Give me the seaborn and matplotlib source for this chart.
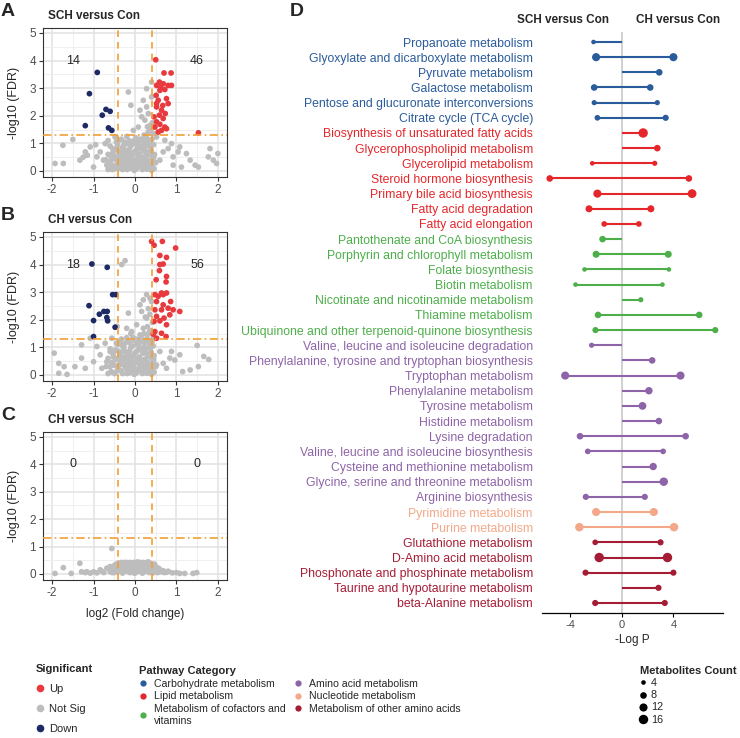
import numpy as np
import pandas as pd
import matplotlib.pyplot as plt
import seaborn as sns
from matplotlib.lines import Line2D
from matplotlib.ticker import MultipleLocator

sns.set_style('white')
plt.rcParams['font.family'] = ['Liberation Sans', 'DejaVu Sans']
plt.rcParams['axes.unicode_minus'] = False

# ---------------- volcano data: (log2 fold change, -log10 FDR) ----------------
a_up = [(0.50, 4.03), (0.70, 3.55), (0.87, 3.55), (0.59, 3.22), (0.68, 3.16), (0.80, 3.10),
        (0.88, 3.10), (0.52, 3.10), (0.60, 2.92), (0.72, 2.95), (0.51, 2.74), (0.56, 2.56),
        (0.76, 2.62), (0.80, 2.44), (0.52, 2.32), (0.64, 2.20), (0.59, 2.02), (0.68, 1.90),
        (0.52, 1.78), (0.60, 1.69), (0.48, 1.59), (0.72, 1.59), (0.64, 1.47), (0.56, 1.41),
        (0.52, 2.44), (0.67, 2.37), (0.73, 2.08), (0.46, 1.96), (1.53, 1.38), (0.76, 1.53),
        (0.62, 3.02)]
a_down = [(-0.91, 3.57), (-1.10, 2.80), (-0.70, 2.23), (-0.60, 2.16), (-0.79, 2.02),
          (-1.20, 1.64), (-0.64, 1.56), (-0.56, 1.47)]
a_ns = [(-1.93, 0.27), (-1.73, 0.27), (-1.74, 0.93), (-1.50, 1.14), (-1.33, 0.39), (-1.20, 0.69),
        (-1.15, 0.57), (-1.08, 0.87), (-1.00, 0.14), (-0.92, 0.51), (-0.84, 0.69), (-0.76, 0.39),
        (-0.72, 0.99), (-0.68, 0.21), (-0.60, 0.57), (-0.54, 0.81), (-0.48, 1.23), (-0.95, 0.95),
        (-1.25, 0.50), (-0.65, 1.10),
        (1.81, 0.81), (1.89, 0.39), (2.00, 0.63), (1.97, 0.27), (1.77, 0.51), (1.53, 0.14),
        (1.45, 0.21), (1.33, 0.39), (1.24, 0.63), (1.08, 0.87), (1.04, 0.69), (0.92, 0.51),
        (0.88, 0.99), (0.80, 0.81), (0.72, 1.11), (0.68, 0.69), (0.60, 0.39), (0.52, 1.23),
        (0.92, 0.21), (1.12, 0.14),
        (-0.16, 2.86), (-0.10, 2.38), (0.40, 3.22), (0.28, 2.98), (0.20, 2.56), (0.12, 2.20),
        (0.32, 2.08), (0.24, 1.84), (0.08, 1.59), (0.36, 1.65), (-0.04, 1.47), (0.28, 2.32),
        (0.40, 2.68), (0.16, 1.96), (0.32, 1.41),
        (-0.55, 0.05), (-0.50, 0.20), (-0.45, 0.40), (-0.40, 0.10), (-0.38, 0.60), (-0.35, 0.30),
        (-0.30, 0.85), (-0.30, 0.05), (-0.25, 0.50), (-0.22, 0.20), (-0.20, 1.00), (-0.18, 0.70),
        (-0.15, 0.35), (-0.12, 0.10), (-0.10, 0.90), (-0.08, 0.55), (-0.05, 0.25), (-0.02, 1.10),
        (0.00, 0.70), (0.00, 0.05), (0.03, 0.40), (0.05, 0.95), (0.07, 0.15), (0.10, 0.60),
        (0.12, 1.15), (0.14, 0.30), (0.16, 0.80), (0.18, 0.05), (0.20, 0.50), (0.22, 1.00),
        (0.25, 0.20), (0.27, 0.70), (0.30, 0.40), (0.32, 1.10), (0.35, 0.10), (0.37, 0.85),
        (0.40, 0.55), (0.42, 0.25), (0.45, 0.95), (-0.48, 0.75), (-0.42, 0.95), (-0.33, 1.15),
        (-0.28, 0.45), (-0.60, 0.30), (-0.52, 0.55), (0.08, 0.80), (-0.07, 0.45), (0.15, 0.15),
        (0.28, 0.30), (-0.18, 0.15), (-0.25, 0.75), (0.35, 0.65), (0.10, 0.35), (-0.12, 0.62),
        (0.02, 0.22), (0.23, 0.85), (-0.35, 0.50), (0.40, 0.02), (-0.02, 0.02), (0.47, 0.60),
        (-0.58, 0.12), (-0.49, 0.08), (-0.41, 0.22), (-0.33, 0.15), (-0.27, 0.32), (-0.19, 0.05),
        (-0.13, 0.24), (-0.04, 0.12), (0.04, 0.08), (0.12, 0.22), (0.21, 0.12), (0.29, 0.06),
        (0.38, 0.16), (0.46, 0.08), (-0.56, 0.42), (-0.46, 0.52), (-0.39, 0.34), (-0.31, 0.62),
        (-0.22, 0.38), (-0.15, 0.52), (-0.05, 0.36), (0.06, 0.58), (0.13, 0.46), (0.20, 0.36),
        (0.26, 0.55), (0.34, 0.28), (0.43, 0.42), (0.50, 0.30), (-0.53, 0.68), (-0.44, 0.82),
        (-0.36, 0.72), (-0.27, 0.92), (-0.21, 0.62), (-0.13, 0.82), (-0.03, 0.68), (0.04, 0.78),
        (0.11, 0.92), (0.19, 0.72), (0.25, 0.90), (0.31, 0.62), (0.39, 0.75), (0.45, 0.50),
        (-0.45, 1.05), (-0.38, 1.12), (-0.26, 1.05), (-0.14, 1.10), (-0.06, 0.98), (0.02, 1.20),
        (0.09, 1.05), (0.18, 1.15), (0.28, 1.20), (0.35, 1.00), (0.41, 1.15), (0.44, 1.35),
        (0.38, 1.50), (0.30, 1.60), (0.42, 1.75), (0.22, 1.30), (-0.20, 1.25), (-0.60, 0.90),
        (-0.65, 0.60), (-0.70, 0.40), (-0.65, 0.05)]

b_up = [(0.40, 4.84), (0.66, 4.84), (0.46, 4.70), (0.98, 4.60), (0.60, 4.33), (0.76, 4.26),
        (0.68, 4.02), (0.60, 4.00), (0.51, 3.45), (0.76, 3.57), (0.75, 3.37), (0.64, 2.97),
        (0.48, 2.91), (0.56, 2.85), (0.68, 2.91), (0.76, 2.97), (0.86, 2.66), (0.52, 2.66),
        (0.68, 2.54), (0.48, 2.36), (0.64, 2.36), (0.80, 2.42), (0.92, 2.36), (1.08, 2.30),
        (0.52, 2.12), (0.70, 2.06), (0.60, 1.96), (0.46, 1.94), (0.76, 1.82), (0.48, 1.57),
        (0.64, 1.51), (0.52, 1.33), (0.75, 1.39), (0.44, 1.48), (0.84, 2.18), (0.59, 3.78)]
b_down = [(-1.04, 4.02), (-0.67, 3.90), (-0.54, 2.91), (-0.46, 2.91), (-1.11, 2.51),
          (-0.86, 2.20), (-0.75, 2.30), (-0.67, 2.30), (-1.00, 1.97), (-0.68, 2.08),
          (-0.66, 1.96), (-0.48, 1.73), (-1.00, 1.39)]
b_ns = [(-0.32, 4.00), (-0.24, 4.14), (-0.43, 1.76), (-0.16, 2.24), (0.12, 2.54), (0.28, 2.91),
        (0.36, 2.78), (0.20, 2.72), (0.40, 2.66), (0.16, 2.30), (0.28, 2.06), (0.04, 1.82),
        (0.20, 1.69), (-0.08, 1.57), (0.35, 1.57), (0.12, 1.45), (-0.20, 1.69), (0.32, 2.40),
        (-1.95, 0.79), (-1.84, 0.42), (-1.84, 0.06), (-1.64, 0.02), (-1.71, 0.30), (-1.45, 0.30),
        (-1.29, 0.61), (-1.29, 1.09), (-1.20, 0.24), (-1.08, 1.33), (-1.00, 0.48), (-0.92, 1.03),
        (-0.84, 0.73), (-0.80, 0.24), (-0.72, 1.15), (-0.68, 0.48), (-0.60, 0.85), (-0.56, 1.33),
        (1.50, 1.07), (1.66, 0.67), (1.78, 0.56), (1.53, 0.30), (1.33, 0.18), (1.15, 0.12),
        (0.96, 0.54), (0.84, 0.61), (0.76, 0.24), (0.60, 0.85), (0.68, 0.42), (1.08, 0.73),
        (0.52, 0.36), (0.88, 0.85),
        (-0.55, 0.10), (-0.50, 0.35), (-0.46, 0.60), (-0.42, 0.15), (-0.38, 0.85), (-0.35, 0.40),
        (-0.30, 1.05), (-0.30, 0.05), (-0.25, 0.60), (-0.22, 0.25), (-0.20, 1.20), (-0.17, 0.80),
        (-0.14, 0.40), (-0.12, 0.08), (-0.10, 1.00), (-0.07, 0.60), (-0.05, 0.25), (-0.02, 1.25),
        (0.00, 0.80), (0.00, 0.05), (0.03, 0.45), (0.05, 1.10), (0.07, 0.15), (0.10, 0.65),
        (0.12, 1.30), (0.14, 0.30), (0.16, 0.90), (0.18, 0.05), (0.20, 0.55), (0.22, 1.15),
        (0.25, 0.20), (0.27, 0.80), (0.30, 0.45), (0.32, 1.25), (0.35, 0.10), (0.37, 0.95),
        (0.40, 0.60), (0.42, 0.25), (0.44, 1.05), (-0.48, 0.90), (-0.42, 1.10), (-0.33, 1.30),
        (-0.28, 0.50), (-0.60, 0.30), (-0.52, 0.65), (0.08, 0.90), (-0.07, 0.45), (0.15, 0.15),
        (0.28, 0.35), (-0.18, 0.15), (-0.25, 0.85), (0.35, 0.75), (0.10, 0.40), (-0.12, 0.70),
        (0.02, 0.22), (0.23, 1.00), (-0.35, 0.55), (0.40, 0.02), (-0.02, 0.02), (0.46, 0.70),
        (0.30, 1.45), (0.15, 1.40), (-0.05, 1.35), (0.42, 1.30),
        (-0.58, 0.12), (-0.49, 0.05), (-0.41, 0.25), (-0.33, 0.15), (-0.27, 0.35), (-0.19, 0.05),
        (-0.13, 0.24), (-0.04, 0.12), (0.04, 0.08), (0.12, 0.25), (0.21, 0.12), (0.29, 0.06),
        (0.38, 0.18), (0.46, 0.10), (-0.56, 0.45), (-0.46, 0.55), (-0.39, 0.34), (-0.31, 0.65),
        (-0.22, 0.40), (-0.15, 0.55), (-0.05, 0.36), (0.06, 0.60), (0.13, 0.48), (0.20, 0.36),
        (0.26, 0.58), (0.34, 0.30), (0.43, 0.45), (0.50, 0.30), (-0.53, 0.75), (-0.44, 0.88),
        (-0.36, 0.75), (-0.27, 0.98), (-0.21, 0.68), (-0.13, 0.88), (-0.03, 0.72), (0.04, 0.85),
        (0.11, 1.00), (0.19, 0.78), (0.25, 0.95), (0.31, 0.68), (0.39, 0.82), (0.45, 0.55),
        (-0.45, 1.15), (-0.36, 1.20), (-0.26, 1.12), (-0.14, 1.18), (-0.06, 1.05), (0.02, 1.30),
        (0.09, 1.15), (0.18, 1.25), (0.28, 1.30), (0.35, 1.10), (0.41, 1.20), (0.44, 1.45),
        (0.38, 1.60), (0.30, 1.75), (0.42, 1.90), (0.22, 1.50), (-0.20, 1.35), (-0.10, 1.50),
        (-0.60, 0.95), (-0.65, 0.60), (-0.70, 0.30), (-0.65, 0.05), (0.36, 2.20), (0.25, 2.10)]

c_up = []
c_down = []
c_ns = [(-0.56, 0.93), (-1.93, 0.02), (-1.73, 0.23), (-1.54, 0.02), (-1.33, 0.39), (-1.29, 0.08),
        (-1.16, 0.08), (-1.00, 0.08), (-0.84, 0.15), (-0.68, 0.21), (-0.60, 0.27), (-0.75, 0.05),
        (-0.92, 0.04), (-1.08, 0.03), (0.60, 0.08), (0.76, 0.06), (1.08, 0.02), (1.20, 0.02),
        (1.40, 0.02), (1.49, 0.05), (0.68, 0.12), (0.90, 0.04),
        (-0.55, 0.05), (-0.50, 0.15), (-0.46, 0.25), (-0.42, 0.08), (-0.38, 0.30), (-0.35, 0.18),
        (-0.30, 0.38), (-0.30, 0.03), (-0.26, 0.25), (-0.22, 0.12), (-0.20, 0.42), (-0.17, 0.30),
        (-0.14, 0.20), (-0.12, 0.05), (-0.10, 0.40), (-0.07, 0.28), (-0.05, 0.12), (-0.02, 0.42),
        (0.00, 0.32), (0.00, 0.03), (0.03, 0.20), (0.05, 0.40), (0.07, 0.10), (0.10, 0.30),
        (0.12, 0.42), (0.14, 0.15), (0.16, 0.35), (0.18, 0.03), (0.20, 0.25), (0.22, 0.40),
        (0.25, 0.10), (0.27, 0.30), (0.30, 0.20), (0.32, 0.38), (0.35, 0.05), (0.37, 0.30),
        (0.40, 0.22), (0.42, 0.10), (0.45, 0.28), (0.50, 0.15), (0.55, 0.05), (-0.48, 0.33),
        (-0.40, 0.40), (-0.25, 0.42), (0.28, 0.42), (0.48, 0.22), (-0.58, 0.15), (0.52, 0.25),
        (-0.60, 0.08), (-0.52, 0.28), (-0.44, 0.12), (-0.37, 0.22), (-0.28, 0.15), (-0.23, 0.32),
        (-0.16, 0.08), (-0.09, 0.32), (-0.03, 0.20), (0.02, 0.36), (0.08, 0.24), (0.15, 0.08),
        (0.19, 0.42), (0.24, 0.20), (0.33, 0.30), (0.39, 0.38), (0.44, 0.04), (0.47, 0.36),
        (0.53, 0.12), (0.58, 0.20), (-0.45, 0.36), (-0.33, 0.42), (-0.12, 0.42), (0.06, 0.44),
        (0.32, 0.44), (-0.18, 0.20), (0.12, 0.12), (0.28, 0.10), (-0.04, 0.05), (-0.50, 0.05),
        (0.70, 0.05), (0.80, 0.10), (-0.80, 0.10), (1.00, 0.05), (-1.20, 0.05)]

# ---------------- pathway enrichment data ----------------
pathways = ['Propanoate metabolism', 'Glyoxylate and dicarboxylate metabolism', 'Pyruvate metabolism',
            'Galactose metabolism', 'Pentose and glucuronate interconversions', 'Citrate cycle (TCA cycle)',
            'Biosynthesis of unsaturated fatty acids', 'Glycerophospholipid metabolism',
            'Glycerolipid metabolism', 'Steroid hormone biosynthesis', 'Primary bile acid biosynthesis',
            'Fatty acid degradation', 'Fatty acid elongation', 'Pantothenate and CoA biosynthesis',
            'Porphyrin and chlorophyll metabolism', 'Folate biosynthesis', 'Biotin metabolism',
            'Nicotinate and nicotinamide metabolism', 'Thiamine metabolism',
            'Ubiquinone and other terpenoid-quinone biosynthesis', 'Valine, leucine and isoleucine degradation',
            'Phenylalanine, tyrosine and tryptophan biosynthesis', 'Tryptophan metabolism',
            'Phenylalanine metabolism', 'Tyrosine metabolism', 'Histidine metabolism', 'Lysine degradation',
            'Valine, leucine and isoleucine biosynthesis', 'Cysteine and methionine metabolism',
            'Glycine, serine and threonine metabolism', 'Arginine biosynthesis', 'Pyrimidine metabolism',
            'Purine metabolism', 'Glutathione metabolism', 'D-Amino acid metabolism',
            'Phosphonate and phosphinate metabolism', 'Taurine and hypotaurine metabolism',
            'beta-Alanine metabolism']
category = (['Carbohydrate metabolism'] * 6 + ['Lipid metabolism'] * 7 +
            ['Metabolism of cofactors and\nvitamins'] * 7 + ['Amino acid metabolism'] * 11 +
            ['Nucleotide metabolism'] * 2 + ['Metabolism of other amino acids'] * 5)
nan = np.nan
sch_logp = [-2.2, -2.0, nan, -2.15, -2.15, -1.9, nan, nan, -2.3, -5.6, -1.9, -2.55, -1.37,
            -1.5, -2.0, -2.9, -3.6, nan, -1.85, -2.05, -2.35, nan, -4.4, nan, nan, nan, -3.25,
            -2.65, nan, nan, -2.8, -2.0, -3.3, -2.07, -1.76, -2.82, nan, -2.07]
sch_count = [4, 12, nan, 8, 5, 6, nan, nan, 4, 8, 12, 9, 6, 8, 9, 4, 4, nan, 8, 7, 5, nan, 12,
             nan, nan, nan, 8, 6, nan, nan, 7, 12, 13, 6, 16, 7, nan, 7]
ch_logp = [nan, 4.0, 2.9, 2.2, 2.75, 3.4, 1.65, 2.75, 2.55, 5.2, 5.45, 2.25, 1.32, nan, 3.6,
           3.65, 3.15, 1.47, 6.0, 7.25, nan, 2.35, 4.55, 2.1, 1.6, 2.87, 4.95, 3.2, 2.43, 3.25,
           1.78, 2.48, 4.05, 3.0, 3.54, 4.0, 2.84, 3.33]
ch_count = [nan, 12, 8, 8, 5, 7, 16, 8, 5, 8, 14, 9, 6, nan, 9, 4, 4, 5, 8, 7, nan, 8, 12, 10,
            11, 8, 8, 6, 10, 13, 7, 12, 13, 7, 16, 7, 7, 7]

cat_colors = {'Carbohydrate metabolism': '#2A5B9A', 'Lipid metabolism': '#E5262B',
              'Metabolism of cofactors and\nvitamins': '#4DAF4A', 'Amino acid metabolism': '#8E64A8',
              'Nucleotide metabolism': '#F3A889', 'Metabolism of other amino acids': '#A51D35'}
sig_colors = {'Up': '#E8393E', 'Not Sig': '#BDBDBD', 'Down': '#1E2A65'}
ORANGE = '#F2A035'

W, H = 740, 738
fig = plt.figure(figsize=(W / 100, H / 100), dpi=100)


def px_axes(l, t, r, b):
    return fig.add_axes([l / W, 1 - b / H, (r - l) / W, (b - t) / H])


def volcano(ax, up, down, ns, n_down, n_up):
    rows = ([(x, y, 'Not Sig') for x, y in ns] + [(x, y, 'Down') for x, y in down] +
            [(x, y, 'Up') for x, y in up])
    df = pd.DataFrame(rows, columns=['log2fc', 'logfdr', 'sig'])
    sns.scatterplot(data=df, x='log2fc', y='logfdr', hue='sig', palette=sig_colors, s=17,
                    linewidth=0, legend=False, ax=ax, zorder=3)
    ax.set_xlim(-2.22, 2.22)
    ax.set_ylim(-0.22, 5.18)
    ax.xaxis.set_major_locator(MultipleLocator(1))
    ax.xaxis.set_minor_locator(MultipleLocator(0.5))
    ax.yaxis.set_major_locator(MultipleLocator(1))
    ax.yaxis.set_minor_locator(MultipleLocator(0.5))
    ax.grid(which='major', color='#E2E2E2', lw=1.1, zorder=0)
    ax.grid(which='minor', color='#EDEDED', lw=0.6, zorder=0)
    ax.set_axisbelow(True)
    for s in ax.spines.values():
        s.set_color('#333333')
        s.set_linewidth(0.8)
    ax.tick_params(which='major', length=3, width=0.8, color='#333333', labelsize=8.5,
                   labelcolor='#4D4D4D', pad=2, bottom=True, left=True)
    ax.tick_params(which='minor', length=0)
    ax.axvline(-0.415, color=ORANGE, lw=1.2, ls=(0, (4, 3)), zorder=4)
    ax.axvline(0.415, color=ORANGE, lw=1.2, ls=(0, (4, 3)), zorder=4)
    ax.axhline(1.301, color=ORANGE, lw=1.2, ls=(0, (5, 2, 1, 2)), zorder=4)
    ax.text(-1.5, 4.0, str(n_down), ha='center', va='center', fontsize=9)
    ax.text(1.5, 4.0, str(n_up), ha='center', va='center', fontsize=9)
    ax.set_xlabel('')
    ax.set_ylabel('')


panels = [((43, 28, 227, 177), a_up, a_down, a_ns, 14, 46, 'A', 'SCH versus Con'),
          ((43, 232, 227, 381), b_up, b_down, b_ns, 18, 56, 'B', 'CH versus Con'),
          ((43, 432, 227, 580), c_up, c_down, c_ns, 0, 0, 'C', 'CH versus SCH')]
for box, up, down, ns, nd, nu, letter, title in panels:
    ax = px_axes(*box)
    volcano(ax, up, down, ns, nd, nu)
    fig.text(8 / W, 1 - (box[1] - 17) / H, letter, fontsize=14, fontweight='bold', ha='center', va='center')
    fig.text(48 / W, 1 - (box[1] - 12) / H, title, fontsize=8.5, fontweight='bold', ha='left', va='center')
    fig.text(14 / W, 1 - (box[1] + box[3]) / 2 / H, '-log10 (FDR)', rotation=90, fontsize=9,
             ha='center', va='center')
fig.text(135 / W, 1 - 614 / H, 'log2 (Fold change)', fontsize=8.5, ha='center', va='center')

# ---------------- panel D ----------------
axd = px_axes(542, 32, 723, 613)
row = list(range(len(pathways)))
long = pd.concat([
    pd.DataFrame({'row': row, 'pathway': pathways, 'category': category, 'logp': sch_logp, 'count': sch_count}),
    pd.DataFrame({'row': row, 'pathway': pathways, 'category': category, 'logp': ch_logp, 'count': ch_count}),
]).dropna()
axd.axvline(0, color='#C4C4C4', lw=1.1, zorder=0)
for _, r in long.iterrows():
    axd.plot([0, r['logp']], [r['row'], r['row']], color=cat_colors[r['category']], lw=1.5,
             solid_capstyle='butt', zorder=1)
sns.scatterplot(data=long, x='logp', y='row', hue='category', palette=cat_colors, size='count',
                sizes=(11, 46), size_norm=(4, 16), linewidth=0, legend=False, ax=axd, zorder=3)
axd.set_xlim(-6.2, 7.85)
axd.set_ylim(len(pathways) - 1 + 0.66, -0.66)
axd.set_xticks([-4, 0, 4])
axd.set_yticks(row)
axd.set_yticklabels(pathways, fontsize=8.8)
for lab, cat in zip(axd.get_yticklabels(), category):
    lab.set_color(cat_colors[cat])
axd.tick_params(axis='y', length=0, pad=6.5)
axd.tick_params(axis='x', length=3, width=0.8, color='black', labelsize=8, labelcolor='#4D4D4D', pad=2,
                bottom=True)
for side in ['top', 'right', 'left']:
    axd.spines[side].set_visible(False)
axd.spines['bottom'].set_color('black')
axd.spines['bottom'].set_linewidth(0.9)
axd.set_ylabel('')
axd.set_xlabel('-Log P', fontsize=8.5, labelpad=3)
fig.text(297 / W, 1 - 12 / H, 'D', fontsize=14, fontweight='bold', ha='center', va='center')
fig.text(563 / W, 1 - 20 / H, 'SCH versus Con', fontsize=8.5, fontweight='bold', ha='center', va='center')
fig.text(678 / W, 1 - 20 / H, 'CH versus Con', fontsize=8.5, fontweight='bold', ha='center', va='center')

# ---------------- legends ----------------
leg_kw = dict(loc='upper left', frameon=False, borderpad=0, borderaxespad=0, alignment='left',
              title_fontproperties={'weight': 'bold', 'size': 8})
h_sig = [Line2D([], [], marker='o', ls='', color=c, markersize=5.5, markeredgewidth=0)
         for c in sig_colors.values()]
fig.legend(h_sig, list(sig_colors.keys()), title='Significant', bbox_to_anchor=(36 / W, 1 - 664 / H),
           fontsize=8, handlelength=0.8, handletextpad=0.4, labelspacing=0.9, **leg_kw)

h_cat = [Line2D([], [], marker='o', ls='', color=c, markersize=4.5, markeredgewidth=0)
         for c in cat_colors.values()]
fig.legend(h_cat, list(cat_colors.keys()), title='Pathway Category', ncol=2,
           bbox_to_anchor=(139 / W, 1 - 666 / H), fontsize=7.6, handlelength=0.8, handletextpad=0.6,
           labelspacing=0.25, columnspacing=0.8, **leg_kw)

count_levels = [4, 8, 12, 16]
h_cnt = [Line2D([], [], marker='o', ls='', color='black', markeredgewidth=0,
                markersize=np.sqrt(11 + (n - 4) * (46 - 11) / 12)) for n in count_levels]
fig.legend(h_cnt, [str(n) for n in count_levels], title='Metabolites Count',
           bbox_to_anchor=(640 / W, 1 - 666 / H), fontsize=7.8, handlelength=0.6, handletextpad=0.4,
           labelspacing=0.2, **leg_kw)

fig.savefig('out.png', dpi=100)
